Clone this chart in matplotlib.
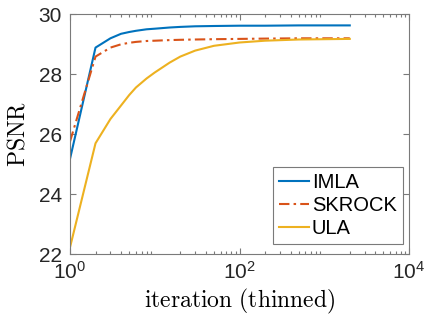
import matplotlib
matplotlib.use("Agg")
import matplotlib.pyplot as plt
from matplotlib.ticker import LogLocator, NullFormatter

iterations = [1, 2, 3, 4, 5, 6, 8, 10, 15, 20, 30, 50, 100, 200, 500, 1000, 2000]
imla = [25.17, 28.88, 29.19, 29.34, 29.40, 29.44, 29.49, 29.51, 29.55, 29.57,
        29.59, 29.60, 29.61, 29.61, 29.62, 29.62, 29.62]
skrock = [25.75, 28.58, 28.88, 28.99, 29.04, 29.07, 29.10, 29.11, 29.13, 29.14,
          29.15, 29.16, 29.17, 29.18, 29.19, 29.19, 29.19]
ula = [22.22, 25.69, 26.50, 26.95, 27.30, 27.55, 27.85, 28.05, 28.38, 28.58,
       28.78, 28.94, 29.05, 29.11, 29.15, 29.16, 29.17]
labels = ["IMLA", "SKROCK", "ULA"]
yticks = [22, 24, 26, 28, 30]
xticks = [1, 100, 10000]
xticklabels = [r"$10^0$", r"$10^2$", r"$10^4$"]

plt.rcParams["font.family"] = ["Liberation Sans", "DejaVu Sans"]
plt.rcParams["mathtext.fontset"] = "custom"
plt.rcParams["mathtext.rm"] = "Liberation Sans"
plt.rcParams["mathtext.it"] = "Liberation Sans"

fig = plt.figure(figsize=(4.29, 3.2), dpi=100)
ax = fig.add_axes([70/429, 66/320, 339/429, 240/320])

c_blue, c_red, c_yel = "#0072BD", "#D95319", "#EDB120"
ax.plot(iterations, imla, color=c_blue, lw=1.5, label=labels[0])
ax.plot(iterations, skrock, color=c_red, lw=1.5, linestyle=(0, (5, 2, 1.2, 2)), label=labels[1])
ax.plot(iterations, ula, color=c_yel, lw=1.5, label=labels[2])

ax.set_xscale("log")
ax.set_xlim(1, 10000)
ax.set_ylim(22, 30)
ax.set_xticks(xticks)
ax.set_xticklabels(xticklabels)
ax.set_yticks(yticks)
ax.xaxis.set_minor_locator(LogLocator(base=10, subs=range(2, 10), numticks=20))
ax.xaxis.set_minor_formatter(NullFormatter())

spine_c = "#7a7a7a"
for s in ax.spines.values():
    s.set_color(spine_c)
    s.set_linewidth(0.8)
ax.tick_params(which="both", direction="in", top=True, right=True, colors=spine_c,
               labelcolor="#262626", width=0.8)
ax.tick_params(which="major", length=4, labelsize=15)
ax.tick_params(axis="y", which="major", pad=6)
ax.tick_params(axis="x", which="major", pad=5)
ax.tick_params(which="minor", length=2)

ax.set_xlabel(r"$\mathrm{iteration\ (thinned)}$", fontsize=17, math_fontfamily="cm", labelpad=3)
ax.set_ylabel(r"$\mathrm{PSNR}$", fontsize=17, math_fontfamily="cm", labelpad=6)

leg = ax.legend(loc="lower right", bbox_to_anchor=(0.982, 0.042), borderaxespad=0,
                fontsize=14.5, frameon=True, fancybox=False,
                handlelength=1.5, handletextpad=0.15, borderpad=0.3, labelspacing=0.2)
leg.get_frame().set_edgecolor(spine_c)
leg.get_frame().set_linewidth(0.8)
leg.get_frame().set_alpha(1)

fig.savefig("out.png", dpi=100)
